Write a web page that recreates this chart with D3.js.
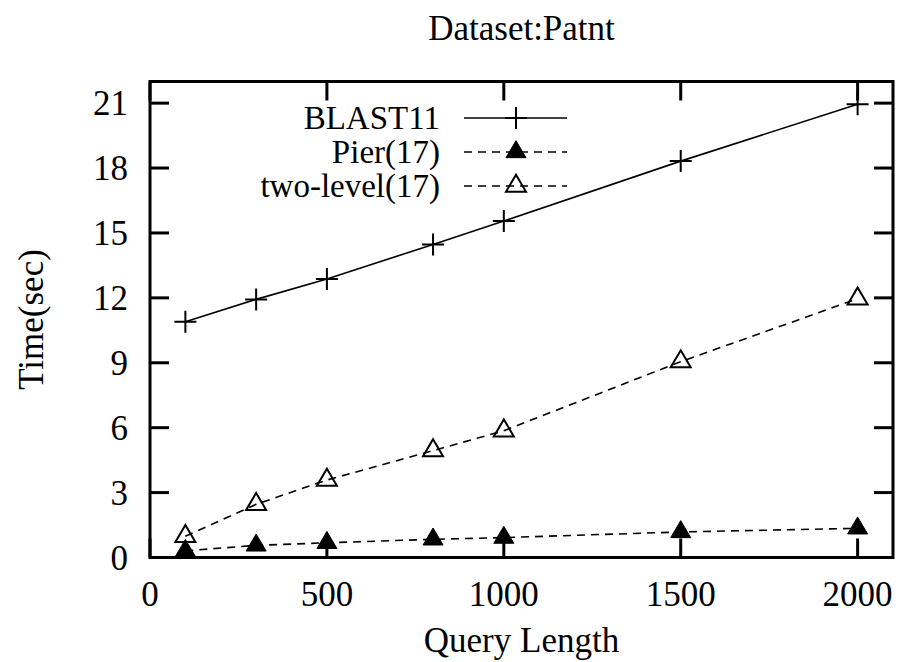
<!DOCTYPE html>
<html>
<head>
<meta charset="utf-8">
<script src="https://cdn.jsdelivr.net/npm/d3@7/dist/d3.min.js"></script>
<style>
  body { margin: 0; background: #fff; }
</style>
</head>
<body>
<svg id="chart" width="900" height="662" font-family="'Times New Roman', 'Liberation Serif', Times, serif"></svg>
<script>
// ---- data ----
const queryLengths = [100, 300, 500, 800, 1000, 1500, 2000];
const blast11 = [10.9, 11.93, 12.87, 14.47, 15.55, 18.32, 20.95];
const pier17 = [0.31, 0.56, 0.68, 0.84, 0.92, 1.18, 1.35];
const twoLevel17 = [0.98, 2.46, 3.58, 4.94, 5.86, 9.05, 11.96];
const seriesNames = ["BLAST11", "Pier(17)", "two-level(17)"];
const xTicks = [0, 500, 1000, 1500, 2000];
const yTicks = [0, 3, 6, 9, 12, 15, 18, 21];
const titleText = "Dataset:Patnt";
const xLabel = "Query Length";
const yLabel = "Time(sec)";

// ---- layout ----
const pLeft = 150, pRight = 893, pTop = 81.5, pBottom = 557.5;
const fs = 35, legendFs = 33;
const FONT = "'Liberation Serif', 'Times New Roman', serif";
const svg = d3.select("#chart");
const x = d3.scaleLinear().domain([0, 2100]).range([pLeft, pRight]);
const y = d3.scaleLinear().domain([0, 22]).range([pBottom, pTop]);

function txt(sel, size) {
  return sel.attr("font-family", FONT).attr("font-size", size || fs).attr("fill", "#000");
}

// ticks (mirrored, inward)
const tickLen = 19;
const axisG = svg.append("g");
xTicks.forEach(t => {
  axisG.append("line").attr("x1", x(t)).attr("x2", x(t)).attr("y1", pBottom).attr("y2", pBottom - tickLen)
    .attr("stroke", "#000").attr("stroke-width", 3);
  axisG.append("line").attr("x1", x(t)).attr("x2", x(t)).attr("y1", pTop).attr("y2", pTop + tickLen)
    .attr("stroke", "#000").attr("stroke-width", 3);
  txt(axisG.append("text")).attr("x", x(t)).attr("y", 606).attr("text-anchor", "middle").text(t);
});
yTicks.forEach(t => {
  axisG.append("line").attr("x1", pLeft).attr("x2", pLeft + tickLen).attr("y1", y(t)).attr("y2", y(t))
    .attr("stroke", "#000").attr("stroke-width", 3);
  axisG.append("line").attr("x1", pRight).attr("x2", pRight - tickLen).attr("y1", y(t)).attr("y2", y(t))
    .attr("stroke", "#000").attr("stroke-width", 3);
  txt(axisG.append("text")).attr("x", 128).attr("y", y(t) + 12).attr("text-anchor", "end").text(t);
});
// border
svg.append("rect").attr("x", pLeft).attr("y", pTop).attr("width", pRight - pLeft).attr("height", pBottom - pTop)
  .attr("fill", "none").attr("stroke", "#000").attr("stroke-width", 3);

// titles
txt(svg.append("text")).attr("x", (pLeft + pRight) / 2).attr("y", 40).attr("text-anchor", "middle").text(titleText);
txt(svg.append("text")).attr("x", (pLeft + pRight) / 2).attr("y", 652).attr("text-anchor", "middle").text(xLabel);
txt(svg.append("text")).attr("transform", `translate(43,${(pTop + pBottom) / 2}) rotate(-90)`)
  .attr("text-anchor", "middle").text(yLabel);

// markers
function plus(g, cx, cy) {
  g.append("path").attr("d", `M${cx - 11},${cy}H${cx + 11}M${cx},${cy - 11}V${cy + 11}`)
    .attr("stroke", "#000").attr("stroke-width", 2).attr("fill", "none");
}
function tri(g, cx, cy, filled) {
  const w = 10, h = 17;
  g.append("path").attr("d", `M${cx},${cy - h * 2 / 3}L${cx + w},${cy + h / 3}L${cx - w},${cy + h / 3}Z`)
    .attr("stroke", "#000").attr("stroke-width", filled ? 1 : 2)
    .attr("fill", filled ? "#000" : "none");
}

const line = d3.line().x(d => x(d[0])).y(d => y(d[1]));
const series = [
  { name: seriesNames[0], vals: blast11, dash: null, mark: (g, a, b) => plus(g, a, b) },
  { name: seriesNames[1], vals: pier17, dash: "8,6", mark: (g, a, b) => tri(g, a, b, true) },
  { name: seriesNames[2], vals: twoLevel17, dash: "8,6", mark: (g, a, b) => tri(g, a, b, false) }
];
const dataG = svg.append("g");
series.forEach((s, i) => {
  const pts = queryLengths.map((q, j) => [q, s.vals[j]]);
  dataG.append("path").attr("d", line(pts)).attr("fill", "none").attr("stroke", "#000")
    .attr("stroke-width", 1.6).attr("stroke-dasharray", s.dash);
  pts.forEach(p => s.mark(dataG, x(p[0]), y(p[1])));
  // legend
  const ly = 118 + i * 34;
  txt(svg.append("text"), legendFs).attr("x", 440).attr("y", ly + 11).attr("text-anchor", "end").text(s.name);
  svg.append("line").attr("x1", 464).attr("x2", 567).attr("y1", ly).attr("y2", ly)
    .attr("stroke", "#000").attr("stroke-width", 1.6).attr("stroke-dasharray", s.dash);
  s.mark(svg, 516, ly);
});
</script>
</body>
</html>
